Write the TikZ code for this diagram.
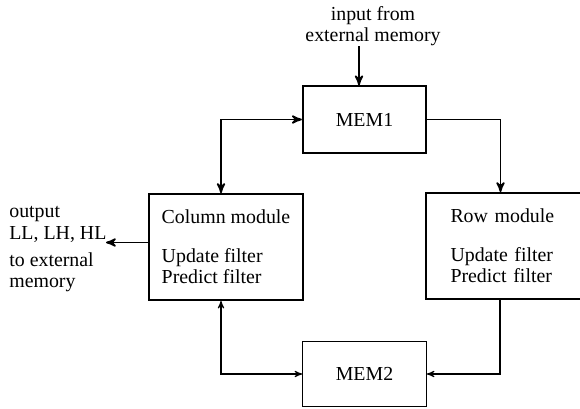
\documentclass[tikz,border=0pt]{standalone}
\usepackage{fontspec}
\setmainfont{Liberation Serif}
\usetikzlibrary{arrows}
\usetikzlibrary{positioning}

\begin{document}
\begin{tikzpicture}[
        font=\fontsize{11.3}{12.2}\selectfont,
        membox/.style={draw, line width=1pt, minimum width=2.47cm, minimum height=1.33cm, inner sep=0pt},
        modbox/.style={draw, line width=1pt, minimum width=3.07cm, minimum height=2.12cm, align=left},
        plaintext/.style={inner sep=0pt},
        link/.style={line width=1pt, >=stealth'},
        thinlink/.style={line width=0.6pt, >=stealth'}]
            % Frame to fix the page, the row box is cut by it:
            \useasboundingbox                                              ( 0.00, 0.00) rectangle (11.60, 8.16);
            \clip                                                          ( 0.00, 0.00) rectangle (11.60, 8.16);
            % Memories and modules:
            \node[membox]                                          (mem1) at ( 7.29, 5.77) {MEM1};
            \node[membox, line width=0.7pt, minimum height=1.31cm] (mem2) at ( 7.29, 0.68) {MEM2};
            \node[modbox]                                          (col)  at ( 4.52, 3.22)
                 {Column module\\[9.7pt]Update filter\\Predict filter};
            \node[modbox, text width=2.42cm, inner xsep=0.49cm]   (row)  at (10.22, 3.24)
                 {Row module\\[9.7pt]Update filter\\Predict filter};
            % Outside texts:
            \node[plaintext, align=center]                         (intxt)  at ( 7.46, 7.64) {input from\\external memory};
            \node[plaintext, align=left, anchor=west]              (outtxt) at ( 0.18, 3.17)
                 {output\\LL, LH, HL\\[3.2pt]to external\\memory};
            \coordinate (in)   at ( 7.18, 7.24);
            \coordinate (outp) at ( 2.12, 3.31);
            % Connectors:
            \draw[link, ->]      (in) -- (in |- mem1.north);
            \draw[link, <->]     (mem1.west) -| ([xshift=-0.10cm]col.north);
            \draw[link, ->]      (mem1.east) -| ([xshift=-0.21cm]row.north);
            \draw[link, ->]      (col.west |- outp) -- (outp);
            \draw[thinlink, <->] ([xshift=-0.10cm]col.south) |- (mem2.west);
            \draw[thinlink, <-]  (mem2.east) -| ([xshift=-0.22cm]row.south);
        \end{tikzpicture}
\end{document}
